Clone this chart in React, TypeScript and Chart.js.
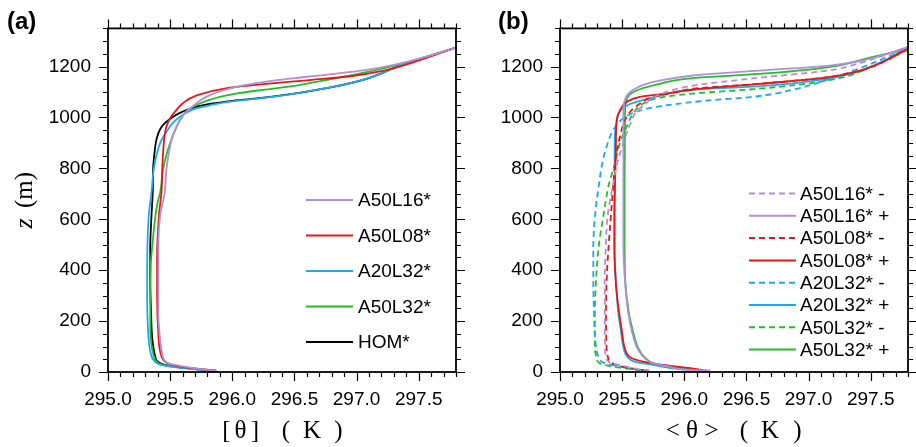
import React, { useEffect, useRef } from "react";
import { Chart, registerables } from "chart.js";
Chart.register(...registerables);

// ---------- axes ----------
const xTicks = [295.0, 295.5, 296.0, 296.5, 297.0, 297.5];
const yTicks = [0, 200, 400, 600, 800, 1000, 1200];
const X_MIN = 295.0;
const X_MAX = 297.8;
const Y_MIN = 0;
const Y_MAX = 1350;
const X_MINOR = 0.1;
const Y_MINOR = 50;

// ---------- panel (a) ----------
const aLabels = ["A50L16*", "A50L08*", "A20L32*", "A50L32*", "HOM*"];
const aColors = ["#B48ED6", "#EE1414", "#1AAAF2", "#22BE2A", "#000000"];

const zA50L16 = [5, 9, 22, 35, 74, 125, 229, 358, 487, 616, 706, 797, 861, 926, 990, 1023, 1055, 1081, 1107, 1126, 1145, 1160, 1187, 1229, 1275];
const thA50L16 = [295.87, 295.79, 295.6, 295.48, 295.435, 295.42, 295.405, 295.405, 295.405, 295.42, 295.457, 295.47, 295.49, 295.52, 295.58, 295.63, 295.71, 295.79, 295.93, 296.09, 296.33, 296.6, 297.08, 297.49, 297.8];

const zA50L08 = [5, 10, 18, 30, 45, 80, 150, 300, 450, 616, 706, 861, 965, 997, 1023, 1055, 1086, 1117, 1131, 1146, 1162, 1184, 1222, 1275];
const thA50L08 = [295.87, 295.78, 295.62, 295.5, 295.45, 295.42, 295.405, 295.395, 295.395, 295.41, 295.43, 295.443, 295.47, 295.5, 295.54, 295.6, 295.71, 295.98, 296.25, 296.6, 296.95, 297.22, 297.49, 297.8];

const zA20L32 = [5, 9, 15, 28, 41, 74, 125, 229, 358, 487, 616, 706, 797, 861, 900, 939, 978, 1003, 1023, 1036, 1048, 1062, 1074, 1087, 1102, 1120, 1152, 1204, 1275];
const thA20L32 = [295.87, 295.75, 295.6, 295.43, 295.376, 295.344, 295.328, 295.317, 295.315, 295.317, 295.328, 295.35, 295.368, 295.395, 295.42, 295.465, 295.52, 295.58, 295.645, 295.71, 295.82, 295.98, 296.196, 296.41, 296.6, 296.81, 297.08, 297.35, 297.8];

const zA50L32 = [5, 9, 15, 28, 41, 60, 99, 164, 293, 422, 513, 590, 668, 706, 797, 861, 926, 990, 1023, 1042, 1055, 1068, 1081, 1094, 1107, 1120, 1133, 1178, 1210, 1275];
const thA50L32 = [295.87, 295.75, 295.63, 295.44, 295.39, 295.37, 295.352, 295.34, 295.34, 295.344, 295.36, 295.376, 295.4, 295.42, 295.443, 295.475, 295.52, 295.58, 295.63, 295.685, 295.74, 295.81, 295.9, 296.03, 296.22, 296.44, 296.6, 297.08, 297.35, 297.8];

const zHOM = [5, 9, 15, 28, 41, 74, 125, 229, 358, 487, 616, 706, 797, 861, 913, 952, 978, 1003, 1023, 1042, 1055, 1064, 1075, 1088, 1102, 1120, 1152, 1204, 1275];
const thHOM = [295.87, 295.75, 295.63, 295.457, 295.4, 295.374, 295.357, 295.347, 295.34, 295.34, 295.35, 295.36, 295.363, 295.374, 295.39, 295.417, 295.457, 295.524, 295.6, 295.71, 295.846, 295.98, 296.196, 296.41, 296.6, 296.81, 297.08, 297.35, 297.8];

// ---------- panel (b) ----------
const bLabels = ["A50L16* -", "A50L16* +", "A50L08* -", "A50L08* +", "A20L32* -", "A20L32* +", "A50L32* -", "A50L32* +"];
const bColors = ["#B48ED6", "#B48ED6", "#EE1414", "#EE1414", "#1AAAF2", "#1AAAF2", "#22BE2A", "#22BE2A"];
const bDashed = [true, false, true, false, true, false, true, false];

const zL16m = [6, 12, 21, 37, 60, 99, 229, 358, 487, 616, 745, 800, 870, 930, 980, 1020, 1050, 1090, 1125, 1156, 1184, 1215, 1275];
const thL16m = [295.72, 295.62, 295.537, 295.4, 295.37, 295.362, 295.36, 295.36, 295.368, 295.384, 295.43, 295.45, 295.49, 295.53, 295.57, 295.61, 295.68, 295.8, 296.07, 296.6, 297.15, 297.42, 297.8];

const zL16p = [6, 8, 21, 34, 60, 99, 164, 229, 358, 500, 745, 1030, 1068, 1094, 1112, 1128, 1145, 1165, 1184, 1203, 1222, 1277];
const thL16p = [296.21, 296.05, 295.886, 295.75, 295.67, 295.617, 295.577, 295.55, 295.523, 295.51, 295.51, 295.51, 295.52, 295.55, 295.6, 295.67, 295.8, 296.07, 296.6, 297.15, 297.42, 297.8];

const zL08m = [6, 12, 21, 37, 60, 99, 229, 358, 487, 616, 745, 823, 926, 990, 1029, 1055, 1081, 1100, 1113, 1132, 1158, 1184, 1270];
const thL08m = [295.7, 295.6, 295.5, 295.41, 295.385, 295.375, 295.37, 295.375, 295.39, 295.41, 295.43, 295.443, 295.483, 295.523, 295.577, 295.644, 295.75, 295.94, 296.07, 296.6, 297.15, 297.415, 297.8];

const zL08p = [5, 15, 28, 41, 54, 74, 99, 164, 229, 293, 358, 487, 616, 745, 900, 990, 1029, 1061, 1081, 1096, 1110, 1132, 1158, 1184, 1270];
const thL08p = [296.18, 296.05, 295.83, 295.67, 295.577, 295.537, 295.518, 295.497, 295.477, 295.46, 295.448, 295.437, 295.437, 295.443, 295.45, 295.456, 295.483, 295.537, 295.644, 295.886, 296.07, 296.6, 297.15, 297.415, 297.8];

const zL32m20 = [6, 8, 21, 37, 60, 99, 229, 358, 487, 616, 745, 810, 887, 952, 997, 1023, 1042, 1058, 1071, 1080, 1110, 1148, 1184, 1270];
const thL32m20 = [295.68, 295.644, 295.483, 295.35, 295.31, 295.29, 295.274, 295.268, 295.268, 295.282, 295.316, 295.336, 295.376, 295.43, 295.51, 295.617, 295.78, 296.02, 296.29, 296.53, 296.88, 297.15, 297.36, 297.8];

const zL32p20 = [6, 12, 28, 41, 60, 99, 164, 229, 358, 487, 616, 745, 900, 980, 1029, 1050, 1068, 1085, 1109, 1123, 1152, 1190, 1275];
const thL32p20 = [296.1, 295.95, 295.75, 295.6, 295.54, 295.51, 295.49, 295.47, 295.45, 295.44, 295.44, 295.44, 295.44, 295.455, 295.49, 295.55, 295.666, 295.8, 296.07, 296.6, 297.15, 297.45, 297.8];

const zL32m50 = [6, 8, 21, 34, 54, 99, 229, 358, 487, 616, 745, 797, 900, 965, 1016, 1055, 1078, 1094, 1113, 1145, 1210, 1265];
const thL32m50 = [295.65, 295.617, 295.43, 295.32, 295.295, 295.28, 295.28, 295.29, 295.31, 295.35, 295.397, 295.43, 295.483, 295.537, 295.59, 295.67, 295.805, 296.07, 296.6, 297.15, 297.55, 297.8];

const zL32p50 = [7, 20, 33, 58, 99, 164, 229, 358, 500, 745, 1000, 1060, 1090, 1107, 1126, 1155, 1171, 1197, 1236, 1268];
const thL32p50 = [296.1, 295.9, 295.76, 295.68, 295.625, 295.585, 295.555, 295.525, 295.52, 295.52, 295.523, 295.53, 295.56, 295.62, 295.75, 296.07, 296.6, 297.15, 297.5, 297.8];

const aSeries = [
  [zA50L16, thA50L16],
  [zA50L08, thA50L08],
  [zA20L32, thA20L32],
  [zA50L32, thA50L32],
  [zHOM, thHOM],
];
const bSeries = [
  [zL16m, thL16m],
  [zL16p, thL16p],
  [zL08m, thL08m],
  [zL08p, thL08p],
  [zL32m20, thL32m20],
  [zL32p20, thL32p20],
  [zL32m50, thL32m50],
  [zL32p50, thL32p50],
];

const SANS = "'Liberation Sans', Arial, Helvetica, sans-serif";
const SERIF = "'Liberation Serif', 'Times New Roman', 'DejaVu Serif', serif";
const DASH = [6, 4];

function toPoints(z: number[], th: number[]) {
  return z.map((zz, i) => ({ x: th[i], y: zz }));
}

type PanelCfg = {
  key: string;
  canvasLeft: number;
  canvasWidth: number;
  axisWidth: number;
  padRight: number;
  tag: string;
  tagX: number;
  yTitle: boolean;
  xTitle: { t: string; dx: number }[];
  legend: { lineX0: number; lineX1: number; textX: number; y0: number; dy: number };
  labels: string[];
  colors: string[];
  dashed: boolean[];
  series: number[][][];
};

const panels: PanelCfg[] = [
  {
    key: "a",
    canvasLeft: 0,
    canvasWidth: 470,
    axisWidth: 108,
    padRight: 14,
    tag: "(a)",
    tagX: 7,
    yTitle: true,
    xTitle: [
      { t: "[", dx: -55.7 },
      { t: "θ", dx: -41.5 },
      { t: "]", dx: -27 },
      { t: "(", dx: 4 },
      { t: "K", dx: 30 },
      { t: ")", dx: 56.5 },
    ],
    legend: { lineX0: 306, lineX1: 353, textX: 358, y0: 200, dy: 35.5 },
    labels: aLabels,
    colors: aColors,
    dashed: aLabels.map(() => false),
    series: aSeries,
  },
  {
    key: "b",
    canvasLeft: 470,
    canvasWidth: 446,
    axisWidth: 90,
    padRight: 8,
    tag: "(b)",
    tagX: 28,
    yTitle: false,
    xTitle: [
      { t: "<", dx: -61.3 },
      { t: "θ", dx: -42 },
      { t: ">", dx: -22.5 },
      { t: "(", dx: 10 },
      { t: "K", dx: 36 },
      { t: ")", dx: 63.5 },
    ],
    legend: { lineX0: 279, lineX1: 326, textX: 330, y0: 193.5, dy: 22.3 },
    labels: bLabels,
    colors: bColors,
    dashed: bDashed,
    series: bSeries,
  },
];

function makeDecor(cfg: PanelCfg) {
  return {
    id: "decor_" + cfg.key,
    afterDraw(chart: any) {
      const { ctx, chartArea } = chart;
      const { left, right, top, bottom } = chartArea;
      const xs = chart.scales.x;
      const ys = chart.scales.y;
      ctx.save();
      ctx.strokeStyle = "#000";
      // ticks
      ctx.lineWidth = 1.2;
      ctx.beginPath();
      const nx = Math.round((X_MAX - X_MIN) / X_MINOR);
      for (let i = 0; i <= nx; i++) {
        const v = X_MIN + i * X_MINOR;
        const px = Math.round(xs.getPixelForValue(v)) + 0.5;
        const L = i % 5 === 0 ? 9 : 5;
        ctx.moveTo(px, bottom);
        ctx.lineTo(px, bottom + L);
        ctx.moveTo(px, top);
        ctx.lineTo(px, top - L);
      }
      const ny = Math.round((Y_MAX - Y_MIN) / Y_MINOR);
      for (let i = 0; i <= ny; i++) {
        const v = Y_MIN + i * Y_MINOR;
        const py = Math.round(ys.getPixelForValue(v)) + 0.5;
        const L = v % 200 === 0 ? 9 : 5;
        ctx.moveTo(left, py);
        ctx.lineTo(left - L, py);
        ctx.moveTo(right, py);
        ctx.lineTo(right + L, py);
      }
      ctx.stroke();
      // frame
      ctx.lineWidth = 1.8;
      ctx.strokeRect(left, top, right - left, bottom - top);

      // panel tag
      ctx.fillStyle = "#000";
      ctx.font = "bold 24px " + SANS;
      ctx.textAlign = "left";
      ctx.textBaseline = "alphabetic";
      ctx.fillText(cfg.tag, cfg.tagX, 29);

      // x title
      const cx = (left + right) / 2;
      ctx.font = "25px " + SERIF;
      ctx.textAlign = "center";
      cfg.xTitle.forEach((g) => {
        ctx.fillText(g.t, cx + g.dx, 438);
      });

      // y title
      if (cfg.yTitle) {
        ctx.save();
        ctx.translate(32, (top + bottom) / 2);
        ctx.rotate(-Math.PI / 2);
        ctx.textAlign = "left";
        ctx.font = "italic 26px " + SERIF;
        const zW = ctx.measureText("z").width;
        ctx.font = "25px " + SERIF;
        const rest = " (m)";
        const rW = ctx.measureText(rest).width;
        const x0 = -(zW + rW + 4) / 2;
        ctx.font = "italic 26px " + SERIF;
        ctx.fillText("z", x0, 0);
        ctx.font = "25px " + SERIF;
        ctx.fillText(rest, x0 + zW + 4, 0);
        ctx.restore();
      }

      // legend
      const lg = cfg.legend;
      ctx.font = "19px " + SANS;
      ctx.textAlign = "left";
      ctx.textBaseline = "middle";
      cfg.labels.forEach((lab, i) => {
        const y = lg.y0 + i * lg.dy;
        ctx.save();
        ctx.strokeStyle = cfg.colors[i];
        ctx.lineWidth = 2;
        ctx.setLineDash(cfg.dashed[i] ? DASH : []);
        ctx.beginPath();
        ctx.moveTo(lg.lineX0, y);
        ctx.lineTo(lg.lineX1, y);
        ctx.stroke();
        ctx.restore();
        ctx.fillStyle = "#000";
        ctx.fillText(lab, lg.textX, y + 1);
      });
      ctx.restore();
    },
  };
}

function Panel({ cfg }: { cfg: PanelCfg }) {
  const ref = useRef<HTMLCanvasElement | null>(null);
  useEffect(() => {
    if (!ref.current) return;
    const datasets = cfg.series.map((s, i) => ({
      label: cfg.labels[i],
      data: toPoints(s[0], s[1]),
      borderColor: cfg.colors[i],
      backgroundColor: cfg.colors[i],
      borderWidth: 1.8,
      borderDash: cfg.dashed[i] ? DASH : [],
      pointRadius: 0,
      fill: false,
      cubicInterpolationMode: "monotone" as const,
      indexAxis: "y" as const,
    }));
    const chart = new Chart(ref.current, {
      type: "line",
      data: { datasets },
      options: {
        animation: false,
        responsive: false,
        maintainAspectRatio: false,
        indexAxis: "y",
        layout: { padding: { top: 24, right: cfg.padRight, left: 0, bottom: 0 } },
        plugins: { legend: { display: false }, tooltip: { enabled: false } },
        elements: { point: { radius: 0 } },
        scales: {
          x: {
            type: "linear",
            position: "bottom",
            min: X_MIN,
            max: X_MAX,
            grid: { display: false, drawTicks: false },
            border: { display: false },
            ticks: {
              autoSkip: false,
              maxRotation: 0,
              color: "#000",
              padding: 16,
              font: { family: SANS, size: 19 },
              callback: (v: any) => Number(v).toFixed(1),
            },
            afterBuildTicks: (s: any) => {
              s.ticks = xTicks.map((v) => ({ value: v }));
            },
            afterFit: (s: any) => {
              s.height = 75;
            },
          },
          y: {
            type: "linear",
            position: "left",
            min: Y_MIN,
            max: Y_MAX,
            grid: { display: false, drawTicks: false },
            border: { display: false },
            ticks: {
              autoSkip: false,
              color: "#000",
              padding: 17,
              font: { family: SANS, size: 19 },
              callback: (v: any) => String(Math.round(Number(v))),
            },
            afterBuildTicks: (s: any) => {
              s.ticks = yTicks.map((v) => ({ value: v }));
            },
            afterFit: (s: any) => {
              s.width = cfg.axisWidth;
            },
          },
        },
      } as any,
      plugins: [makeDecor(cfg)],
    });
    return () => chart.destroy();
  }, [cfg]);
  return (
    <canvas
      ref={ref}
      width={cfg.canvasWidth}
      height={447}
      style={{ position: "absolute", left: cfg.canvasLeft, top: 0, width: cfg.canvasWidth, height: 447 }}
    />
  );
}

export default function App() {
  return (
    <div style={{ position: "fixed", left: 0, top: 0, width: 916, height: 447, background: "#fff", overflow: "hidden" }}>
      {panels.map((p) => (
        <Panel key={p.key} cfg={p} />
      ))}
    </div>
  );
}
